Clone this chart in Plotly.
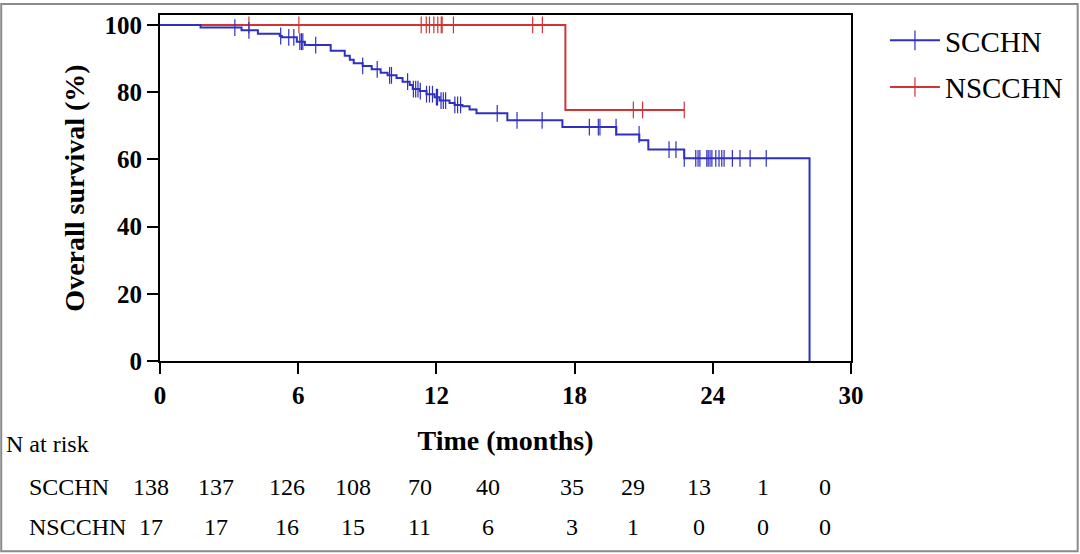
import plotly.graph_objects as go

# ---------------- data ----------------
scc_event_times = [0, 1.76, 3.54, 4.25, 5.20, 5.29, 5.94, 6.29, 7.41, 8.02, 8.24, 8.41, 8.80, 9.19,
                   9.58, 9.88, 10.27, 10.53, 10.84, 10.97, 11.27, 11.57, 11.92, 12.14, 12.57, 12.79,
                   13.13, 13.44, 13.74, 15.08, 17.47, 19.81, 20.81, 21.20, 22.76, 28.2]
scc_surv = [100, 99.2, 98.4, 97.4, 96.7, 96.3, 95.0, 94.0, 92.3, 90.8, 89.6, 88.6, 87.8, 86.8,
            85.8, 85.0, 84.2, 83.1, 82.1, 80.9, 80.3, 79.4, 78.5, 77.5, 76.8, 76.2,
            75.8, 74.8, 73.7, 71.6, 69.6, 67.4, 65.7, 62.9, 60.3, 0]
scc_censor = [3.25, 3.86, 5.24, 5.59, 5.81, 6.07, 6.14, 6.20, 6.76, 8.80, 9.43, 9.97, 10.05, 10.75,
              11.0, 11.1, 11.2, 11.3, 11.57, 11.7, 11.83, 12.0, 12.05, 12.2, 12.3, 12.4, 12.8,
              12.92, 13.05, 14.64, 15.5, 16.59, 18.64, 19.03, 19.1, 19.8, 20.8, 22.1, 22.4,
              22.76, 23.26, 23.36, 23.44, 23.74, 23.8, 23.88, 23.96, 24.13, 24.27, 24.39, 24.49,
              24.85, 25.18, 25.62, 26.32]

nscc_event_times = [0, 17.6, 22.76]
nscc_surv = [100, 74.7, 74.7]
nscc_censor = [3.86, 6.03, 11.34, 11.56, 11.7, 11.89, 12.06, 12.21, 12.25, 12.74, 16.18, 16.6,
               20.55, 20.95, 22.76]

x_ticks = [0, 6, 12, 18, 24, 30]
y_ticks = [0, 20, 40, 60, 80, 100]

risk_groups = ["SCCHN", "NSCCHN"]
risk_scc = [138, 137, 126, 108, 70, 40, 35, 29, 13, 1, 0]
risk_nscc = [17, 17, 16, 15, 11, 6, 3, 1, 0, 0, 0]

# ---------------- style ----------------
BLUE = "#2f2fc2"
RED = "#d03434"
SERIF = "Liberation Serif"

# plot area in pixels
L, R, T, B = 160, 852, 12, 361
W, H = 1080, 554


def px_x(px):
    return (px - L) / (R - L)


def px_y(py):
    return (B - py) / (B - T)


def surv_at(t, times, levels):
    val = levels[0]
    for tt, lv in zip(times, levels):
        if tt <= t + 1e-9:
            val = lv
    return val


fig = go.Figure()

# red first (drawn under blue)
fig.add_trace(go.Scatter(x=nscc_event_times, y=nscc_surv, mode="lines", line_shape="hv",
                         line=dict(color=RED, width=2), showlegend=False, hoverinfo="skip"))
fig.add_trace(go.Scatter(x=nscc_censor, y=[surv_at(t, nscc_event_times, nscc_surv) for t in nscc_censor],
                         mode="markers", marker=dict(symbol="line-ns", size=12,
                                                     line=dict(color=RED, width=1.2)),
                         showlegend=False, hoverinfo="skip"))
fig.add_trace(go.Scatter(x=scc_event_times, y=scc_surv, mode="lines", line_shape="hv",
                         line=dict(color=BLUE, width=2), showlegend=False, hoverinfo="skip"))
fig.add_trace(go.Scatter(x=scc_censor, y=[surv_at(t, scc_event_times, scc_surv) for t in scc_censor],
                         mode="markers", marker=dict(symbol="line-ns", size=12,
                                                     line=dict(color=BLUE, width=1.2)),
                         showlegend=False, hoverinfo="skip"))

# legend-only entries
for name, col, grp in [(risk_groups[0], BLUE, "a"), (risk_groups[1], RED, "b")]:
    fig.add_trace(go.Scatter(x=[None], y=[None], mode="lines+markers", name=name, legendgroup=grp,
                             line=dict(color=col, width=2),
                             marker=dict(symbol="line-ns", size=14, line=dict(color=col, width=1.2))))

axis_common = dict(showline=True, linecolor="black", linewidth=2, mirror=True,
                   ticks="outside", ticklen=11, tickwidth=2, tickcolor="black",
                   showgrid=False, zeroline=False,
                   tickfont=dict(family=SERIF, size=25, color="black", weight="bold"))

fig.update_xaxes(range=[0, 30], tickvals=x_ticks, **axis_common,
                 title=dict(text="Time (months)", standoff=22,
                            font=dict(family=SERIF, size=28, color="black", weight="bold")))
fig.update_yaxes(range=[0, 102.95], tickvals=y_ticks, **axis_common,
                 title=dict(text="Overall survival (%)", standoff=12,
                            font=dict(family=SERIF, size=28, color="black", weight="bold")))

# risk table
annots = []
tfont = dict(family=SERIF, size=24, color="black")
annots.append(dict(text="N at risk", x=px_x(4), y=px_y(445), xref="paper", yref="paper",
                   xanchor="left", yanchor="middle", showarrow=False, font=tfont))
col_px = [151, 216, 287, 353, 420, 488, 573, 634, 700, 764, 826]
row_py = [488, 528]
for name, vals, py in [(risk_groups[0], risk_scc, row_py[0]), (risk_groups[1], risk_nscc, row_py[1])]:
    annots.append(dict(text=name, x=px_x(27), y=px_y(py), xref="paper", yref="paper",
                       xanchor="left", yanchor="middle", showarrow=False, font=tfont))
    for v, cx in zip(vals, col_px):
        annots.append(dict(text=str(v), x=px_x(cx), y=px_y(py), xref="paper", yref="paper",
                           xanchor="center", yanchor="middle", showarrow=False, font=tfont))

fig.update_layout(
    width=W, height=H,
    margin=dict(l=L, r=W - R, t=T, b=H - B, pad=0),
    paper_bgcolor="white", plot_bgcolor="white",
    annotations=annots,
    legend=dict(x=px_x(886), y=px_y(12), xanchor="left", yanchor="top",
                font=dict(family=SERIF, size=29, color="black"),
                itemwidth=50, tracegroupgap=6, traceorder="grouped",
                bgcolor="rgba(0,0,0,0)"),
    shapes=[dict(type="rect", xref="paper", yref="paper",
                 x0=px_x(1), x1=px_x(W - 1), y0=px_y(H - 1), y1=px_y(1),
                 line=dict(color="#8a8a8a", width=2), layer="below")],
)

fig.write_html("out.html", post_script="document.body.style.margin='0';",
               config={"displayModeBar": False})
